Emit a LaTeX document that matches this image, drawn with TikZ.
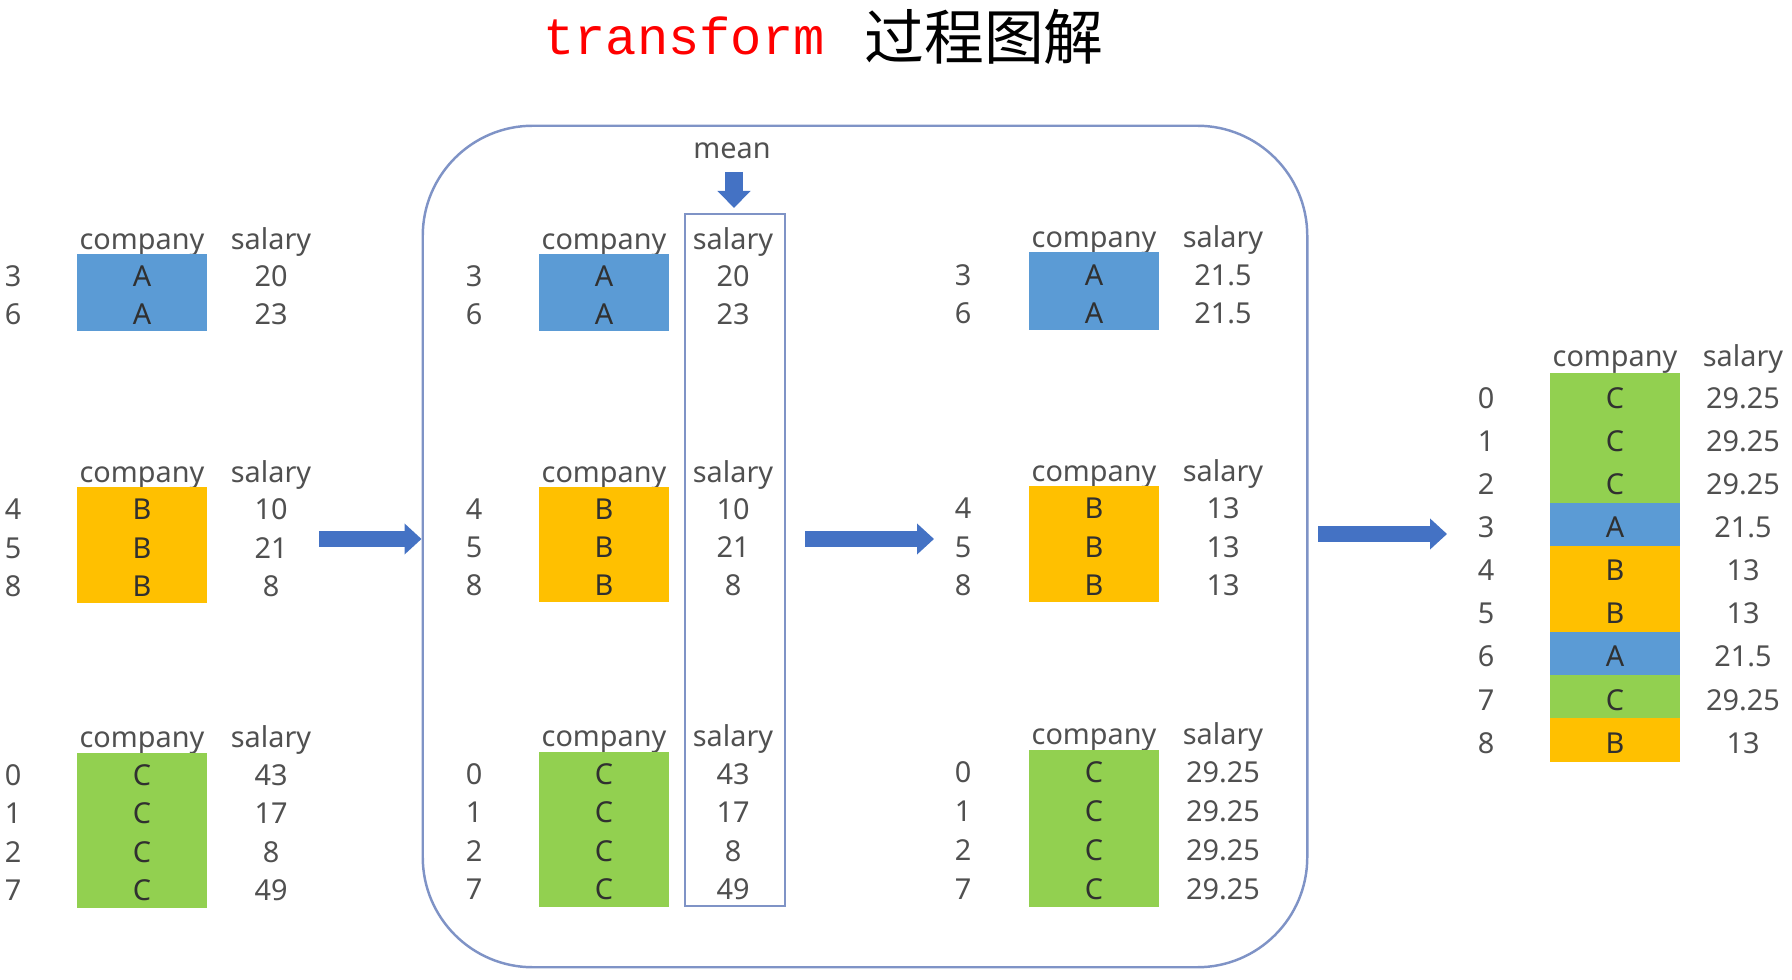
\documentclass[tikz,border=0pt]{standalone}
\usepackage{fontspec}
\setmainfont{Noto Sans}
\newfontfamily\monof{Liberation Mono}
\newfontfamily\cjkf{Noto Sans CJK SC}
\usetikzlibrary{arrows.meta}
\definecolor{cA}{HTML}{5B9BD5}
\definecolor{cB}{HTML}{FFC000}
\definecolor{cC}{HTML}{92D050}
\definecolor{arrowblue}{HTML}{4472C4}
\definecolor{frameblue}{HTML}{7F93C6}
\definecolor{txtgray}{HTML}{505050}
\definecolor{lettercol}{HTML}{303030}
\tikzset{
  txt/.style={inner sep=0pt, text height=7.3pt, text depth=0pt, text=txtgray,
    font=\fontsize{8.2pt}{10pt}\selectfont},
  hdr/.style={txt},
  cell/.style={txt, text=lettercol, minimum width=1.29cm},
  blockarrow/.style={draw=arrowblue, line width=0.16cm,
    -{Triangle[length=0.17cm,width=0.30cm]}},
  framebox/.style={draw=frameblue, line width=0.7pt, inner sep=0pt},
}
% #1 name, #2 index x, #3 box centre x, #4 salary x, #5 box top y, #6 row height, #7 list idx/letter/colour/salary
\newcommand\tbl[7]{%
  \node[hdr] (#1-hc) at (#3,#5-0.47*#6) {company};
  \node[hdr] (#1-hs) at (#4,#5-0.47*#6) {salary};
  \foreach \ix/\lt/\cc/\sv [count=\k from 0] in {#7} {
    \pgfmathsetmacro\yy{#5+(\k+0.5)*#6}
    \node[cell, fill=\cc, minimum height={(#6+1)*0.01cm}] (#1-c\k) at (#3,\yy) {\lt};
    \node[txt] (#1-i\k) at (#2,\yy) {\ix};
    \node[txt] (#1-s\k) at (#4,\yy) {\sv};
  }}
\begin{document}
\begin{tikzpicture}[x=0.01cm,y=-0.01cm]
\useasboundingbox (0,0) rectangle (1792,980);

% title
\node[inner sep=0pt, text=red, font=\monof\fontsize{14.8pt}{16pt}\selectfont] (t1) at (684,36) {transform};
\node[inner sep=0pt, text=black, font=\cjkf\fontsize{17pt}{18pt}\selectfont] (t2) at (984,37) {过程图解};

% frame and salary highlight
\node[framebox, rounded corners=1.1cm, minimum width=8.84cm, minimum height=8.41cm] (frame) at (865,546.5) {};
\node[framebox, minimum width=1.0cm, minimum height=6.92cm] (salrect) at (735,560) {};

% left tables
\tbl{LA}{13}{142}{271}{255}{38}{3/A/cA/20, 6/A/cA/23}
\tbl{LB}{13}{142}{271}{488}{38.3}{4/B/cB/10, 5/B/cB/21, 8/B/cB/8}
\tbl{LC}{13}{142}{271}{753}{38.6}{0/C/cC/43, 1/C/cC/17, 2/C/cC/8, 7/C/cC/49}

% middle tables
\tbl{MA}{474}{604}{733}{255}{38}{3/A/cA/20, 6/A/cA/23}
\tbl{MB}{474}{604}{733}{488}{38}{4/B/cB/10, 5/B/cB/21, 8/B/cB/8}
\tbl{MC}{474}{604}{733}{752}{38.5}{0/C/cC/43, 1/C/cC/17, 2/C/cC/8, 7/C/cC/49}

% transformed tables
\tbl{RA}{963}{1094}{1223}{253}{38.5}{3/A/cA/21.5, 6/A/cA/21.5}
\tbl{RB}{963}{1094}{1223}{487}{38.3}{4/B/cB/13, 5/B/cB/13, 8/B/cB/13}
\tbl{RC}{963}{1094}{1223}{750}{39}{0/C/cC/29.25, 1/C/cC/29.25, 2/C/cC/29.25, 7/C/cC/29.25}

% final table
\tbl{F}{1486}{1615}{1743}{374}{43.1}{0/C/cC/29.25, 1/C/cC/29.25, 2/C/cC/29.25, 3/A/cA/21.5, 4/B/cB/13, 5/B/cB/13, 6/A/cA/21.5, 7/C/cC/29.25, 8/B/cB/13}

% mean arrow
\node[txt] (mean) at (732,146) {mean};
\coordinate (mtop) at (734,172);
\coordinate (mbot) at (734,208);
\draw[blockarrow, line width=0.18cm, -{Triangle[length=0.17cm,width=0.32cm]}] (mtop) -- (mbot);

% process arrows
\coordinate (a1s) at (319,539);
\draw[blockarrow] (a1s) -- (a1s -| frame.west);
\coordinate (a2s) at (805,539);
\coordinate (a2e) at (934,539);
\draw[blockarrow] (a2s) -- (a2e);
\coordinate (a3s) at (1318,534);
\coordinate (a3e) at (1447,534);
\draw[blockarrow] (a3s) -- (a3e);
\end{tikzpicture}
\end{document}
